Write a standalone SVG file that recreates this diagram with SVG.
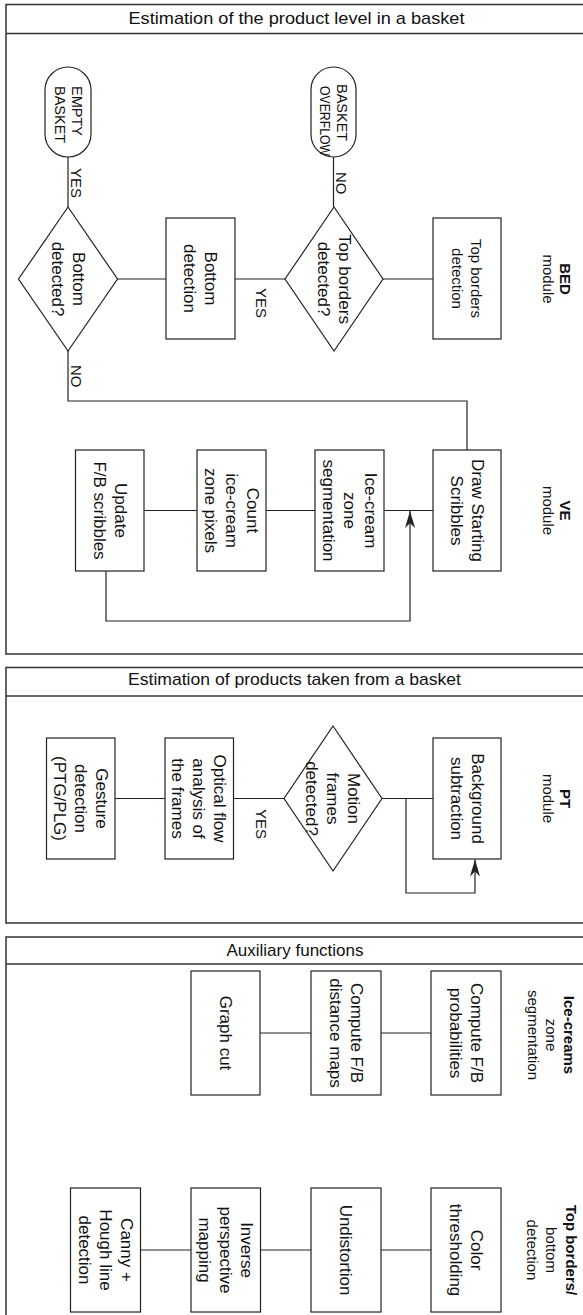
<svg xmlns="http://www.w3.org/2000/svg" width="583" height="1315" viewBox="0 0 583 1315">
<style>
.panel{fill:none;stroke:#333;stroke-width:1.5}
.sep{fill:none;stroke:#333;stroke-width:1.5}
.box{fill:#fff;stroke:#222;stroke-width:1.2}
.conn{fill:none;stroke:#222;stroke-width:1.2}
text{font-family:"Liberation Sans",Arial,sans-serif;fill:#111}
.t{font-size:17px}
.s{font-size:15px}
.lab{font-size:15px}
.term{font-size:14.5px}
.mod{font-size:15px}
.title{font-size:17px}
.b{font-weight:bold}
</style>
<defs>
<marker id="arr" markerUnits="userSpaceOnUse" markerWidth="20" markerHeight="14" viewBox="-18 -7 20 14" refX="0" refY="0" orient="auto">
<path d="M0,0 L-17,-5 L-12,0 L-17,5 Z" fill="#222"/>
</marker>
</defs>
<rect width="583" height="1315" fill="#fff"/>

<g id="panel1">
<rect class="panel" x="6" y="4.5" width="600" height="649.5"/>
<line class="sep" x1="6" y1="33.5" x2="600" y2="33.5"/>
<text class="title" x="296.5" y="23.5" text-anchor="middle" textLength="336" lengthAdjust="spacingAndGlyphs">Estimation of the product level in a basket</text>
</g>
<g id="panel2">
<rect class="panel" x="6" y="667.5" width="600" height="255.5"/>
<line class="sep" x1="6" y1="696" x2="600" y2="696"/>
<text class="title" x="294.5" y="685" text-anchor="middle" textLength="333" lengthAdjust="spacingAndGlyphs">Estimation of products taken from a basket</text>
</g>
<g id="panel3">
<rect class="panel" x="6" y="937" width="600" height="400"/>
<line class="sep" x1="6" y1="964" x2="600" y2="964"/>
<text class="title" x="295" y="955.5" text-anchor="middle">Auxiliary functions</text>
</g>

<g id="connectors">
<line class="conn" x1="68" y1="157" x2="68" y2="207"/>
<line class="conn" x1="333.5" y1="157" x2="333.5" y2="207"/>
<line class="conn" x1="117.5" y1="279" x2="166" y2="279"/>
<line class="conn" x1="235" y1="279" x2="285" y2="279"/>
<line class="conn" x1="383" y1="279" x2="433" y2="279"/>
<polyline class="conn" points="68,351 68,401 467,401 467,450"/>
<line class="conn" x1="144" y1="510.5" x2="197" y2="510.5"/>
<line class="conn" x1="266" y1="510.5" x2="315" y2="510.5"/>
<line class="conn" x1="384" y1="510.5" x2="433" y2="510.5"/>
<polyline class="conn" points="106,571 106,621 410,621 410,511" marker-end="url(#arr)"/>
<line class="conn" x1="115" y1="798.5" x2="165" y2="798.5"/>
<line class="conn" x1="233.5" y1="798.5" x2="284" y2="798.5"/>
<line class="conn" x1="382" y1="798.5" x2="433" y2="798.5"/>
<polyline class="conn" points="406,798.5 406,893 475,893 475,859.5" marker-end="url(#arr)"/>
<line class="conn" x1="260" y1="1033" x2="311" y2="1033"/>
<line class="conn" x1="381" y1="1033" x2="431" y2="1033"/>
<line class="conn" x1="140.5" y1="1250" x2="191" y2="1250"/>
<line class="conn" x1="260.5" y1="1250" x2="311" y2="1250"/>
<line class="conn" x1="381" y1="1250" x2="431" y2="1250"/>
<text class="lab" transform="translate(71,168) rotate(90)">YES</text>
<text class="lab" transform="translate(336,172) rotate(90)">NO</text>
<text class="lab" transform="translate(256,288) rotate(90)">YES</text>
<text class="lab" transform="translate(71,365) rotate(90)">NO</text>
<text class="lab" transform="translate(256,809) rotate(90)">YES</text>
</g>

<g id="empty_basket">
<rect class="box" x="45" y="67" width="46" height="90" rx="23"/>
<text class="term" transform="translate(68,86) rotate(90)"><tspan x="0" y="-3.6">EMPTY</tspan><tspan x="0" y="13.4">BASKET</tspan></text>
</g>
<g id="basket_overflow">
<rect class="box" x="311" y="67" width="45" height="90" rx="22.5"/>
<text class="term" transform="translate(333.5,84) rotate(90)"><tspan x="0" y="-3.6">BASKET</tspan><tspan x="2" y="13.4" textLength="70" lengthAdjust="spacingAndGlyphs">OVERFLOW</tspan></text>
</g>
<g id="bottom_detected">
<polygon class="box" points="68,207 117.5,279 68,351 18.5,279"/>
<text class="t" text-anchor="middle" transform="translate(68,279) rotate(90)"><tspan x="0" y="-4.55">Bottom</tspan><tspan x="0" y="16.45">detected?</tspan></text>
</g>
<g id="bottom_detection">
<rect class="box" x="166" y="218" width="69" height="121"/>
<text class="t" text-anchor="middle" transform="translate(200.5,278.5) rotate(90)"><tspan x="0" y="-4.55">Bottom</tspan><tspan x="0" y="16.45">detection</tspan></text>
</g>
<g id="top_borders_detected">
<polygon class="box" points="334,207 383,279 334,351 285,279"/>
<text class="t" text-anchor="middle" transform="translate(334,279) rotate(90)"><tspan x="0" y="-4.55">Top borders</tspan><tspan x="0" y="16.45">detected?</tspan></text>
</g>
<g id="top_borders_detection">
<rect class="box" x="433" y="218" width="68" height="121"/>
<text class="s" text-anchor="middle" transform="translate(467,278.5) rotate(90)"><tspan x="0" y="-4.25">Top borders</tspan><tspan x="0" y="14.75">detection</tspan></text>
</g>
<g id="bed_module">
<text class="mod" text-anchor="middle" transform="translate(557,279) rotate(90)"><tspan class="b" x="0" y="-3.3">BED</tspan><tspan x="0" y="13.7">module</tspan></text>
</g>

<g id="update_scribbles">
<rect class="box" x="75.5" y="450" width="68.5" height="121"/>
<text class="t" text-anchor="middle" transform="translate(110,510.5) rotate(90)"><tspan x="0" y="-4.55">Update</tspan><tspan x="0" y="16.45">F/B scribbles</tspan></text>
</g>
<g id="count_pixels">
<rect class="box" x="197" y="450" width="69" height="121"/>
<text class="t" text-anchor="middle" transform="translate(231.5,510.5) rotate(90)"><tspan x="0" y="-15.05">Count</tspan><tspan x="0" y="5.95">ice-cream</tspan><tspan x="0" y="26.95">zone pixels</tspan></text>
</g>
<g id="icecream_segmentation">
<rect class="box" x="315" y="450" width="69" height="121"/>
<text class="t" text-anchor="middle" transform="translate(349.5,510.5) rotate(90)"><tspan x="0" y="-15.05">Ice-cream</tspan><tspan x="0" y="5.95">zone</tspan><tspan x="0" y="26.95">segmentation</tspan></text>
</g>
<g id="draw_scribbles">
<rect class="box" x="433" y="450" width="68" height="121"/>
<text class="t" text-anchor="middle" transform="translate(467,510.5) rotate(90)"><tspan x="0" y="-4.55">Draw Starting</tspan><tspan x="0" y="16.45">Scribbles</tspan></text>
</g>
<g id="ve_module">
<text class="mod" text-anchor="middle" transform="translate(557,510.5) rotate(90)"><tspan class="b" x="0" y="-3.3">VE</tspan><tspan x="0" y="13.7">module</tspan></text>
</g>

<g id="gesture_detection">
<rect class="box" x="46.5" y="738" width="68.5" height="121"/>
<text class="t" text-anchor="middle" transform="translate(81,798.5) rotate(90)"><tspan x="0" y="-15.05">Gesture</tspan><tspan x="0" y="5.95">detection</tspan><tspan x="0" y="26.95">(PTG/PLG)</tspan></text>
</g>
<g id="optical_flow">
<rect class="box" x="165" y="738" width="68.5" height="121"/>
<text class="t" text-anchor="middle" transform="translate(199,798.5) rotate(90)"><tspan x="0" y="-15.05">Optical flow</tspan><tspan x="0" y="5.95">analysis of</tspan><tspan x="0" y="26.95">the frames</tspan></text>
</g>
<g id="motion_detected">
<polygon class="box" points="333,726 382,798.5 333,871 284,798.5"/>
<text class="t" text-anchor="middle" transform="translate(333,798.5) rotate(90)"><tspan x="0" y="-15.05">Motion</tspan><tspan x="0" y="5.95">frames</tspan><tspan x="0" y="26.95">detected?</tspan></text>
</g>
<g id="background_subtraction">
<rect class="box" x="433" y="738" width="68" height="121"/>
<text class="t" text-anchor="middle" transform="translate(467,798.5) rotate(90)"><tspan x="0" y="-4.55">Background</tspan><tspan x="0" y="16.45">subtraction</tspan></text>
</g>
<g id="pt_module">
<text class="mod" text-anchor="middle" transform="translate(557,798.5) rotate(90)"><tspan class="b" x="0" y="-3.3">PT</tspan><tspan x="0" y="13.7">module</tspan></text>
</g>

<g id="graph_cut">
<rect class="box" x="191" y="971" width="69" height="124"/>
<text class="t" text-anchor="middle" transform="translate(225.5,1033) rotate(90)"><tspan x="0" y="5.95">Graph cut</tspan></text>
</g>
<g id="distance_maps">
<rect class="box" x="311" y="971" width="70" height="124"/>
<text class="t" text-anchor="middle" transform="translate(346,1033) rotate(90)"><tspan x="0" y="-4.55">Compute F/B</tspan><tspan x="0" y="16.45">distance maps</tspan></text>
</g>
<g id="probabilities">
<rect class="box" x="431" y="971" width="70" height="124"/>
<text class="t" text-anchor="middle" transform="translate(466,1033) rotate(90)"><tspan x="0" y="-4.55">Compute F/B</tspan><tspan x="0" y="16.45">probabilities</tspan></text>
</g>
<g id="icecreams_label">
<text class="mod" text-anchor="middle" transform="translate(550,1035) rotate(90)"><tspan class="b" x="0" y="-13.5">Ice-creams</tspan><tspan x="0" y="4.5">zone</tspan><tspan x="0" y="22.5">segmentation</tspan></text>
</g>

<g id="canny_hough">
<rect class="box" x="70.5" y="1188" width="70" height="124"/>
<text class="t" text-anchor="middle" transform="translate(105.5,1250) rotate(90)"><tspan x="0" y="-15.05">Canny +</tspan><tspan x="0" y="5.95">Hough line</tspan><tspan x="0" y="26.95">detection</tspan></text>
</g>
<g id="inverse_perspective">
<rect class="box" x="191" y="1188" width="69.5" height="124"/>
<text class="t" text-anchor="middle" transform="translate(225.5,1250) rotate(90)"><tspan x="0" y="-15.05">Inverse</tspan><tspan x="0" y="5.95">perspective</tspan><tspan x="0" y="26.95">mapping</tspan></text>
</g>
<g id="undistortion">
<rect class="box" x="311" y="1188" width="70" height="124"/>
<text class="t" text-anchor="middle" transform="translate(346,1250) rotate(90)"><tspan x="0" y="5.95">Undistortion</tspan></text>
</g>
<g id="color_thresholding">
<rect class="box" x="431" y="1188" width="70" height="124"/>
<text class="t" text-anchor="middle" transform="translate(466,1250) rotate(90)"><tspan x="0" y="-4.55">Color</tspan><tspan x="0" y="16.45">thresholding</tspan></text>
</g>
<g id="topbottom_label">
<text class="mod" text-anchor="middle" transform="translate(551,1250) rotate(90)"><tspan class="b" x="0" y="-14.6">Top borders/</tspan><tspan x="0" y="4.9">bottom</tspan><tspan x="0" y="24.4">detection</tspan></text>
</g>
</svg>
